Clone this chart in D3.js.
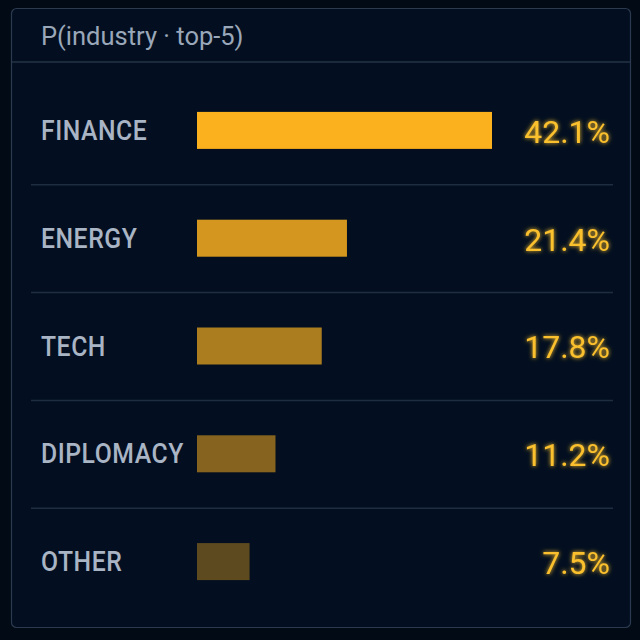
<!DOCTYPE html>
<html><head><meta charset="utf-8">
<script src="https://cdn.jsdelivr.net/npm/d3@7"></script>
<style>
html,body{margin:0;padding:0;background:#020b18;}
svg{display:block;}
</style></head>
<body>
<svg id="chart" width="640" height="640"></svg>
<script>
const title = "P(industry · top-5)";
const categories = ["FINANCE", "ENERGY", "TECH", "DIPLOMACY", "OTHER"];
const values = [42.1, 21.4, 17.8, 11.2, 7.5];
const valueLabels = ["42.1%", "21.4%", "17.8%", "11.2%", "7.5%"];

const svg = d3.select("#chart");
const W = 640, H = 640;

const defs = svg.append("defs");
const glow = defs.append("filter").attr("id","glow").attr("x","-20%").attr("y","-40%").attr("width","140%").attr("height","180%");
glow.append("feGaussianBlur").attr("stdDeviation",2.2).attr("result","b");
const m = glow.append("feMerge");
m.append("feMergeNode").attr("in","b");
m.append("feMergeNode").attr("in","SourceGraphic");

svg.append("rect").attr("width",W).attr("height",H).attr("fill","#020a16");
svg.append("rect").attr("x",11.5).attr("y",8.5).attr("width",619).attr("height",619)
  .attr("rx",5).attr("fill","#030f20").attr("stroke","#2b3a4f").attr("stroke-width",1.2);
svg.append("line").attr("x1",12).attr("x2",630).attr("y1",62).attr("y2",62)
  .attr("stroke","#243347").attr("stroke-width",1.5);
svg.append("text").attr("x",41).attr("y",45).text(title)
  .attr("font-family","Roboto, sans-serif").attr("font-size",25.5).attr("fill","#9aa7b9");

const y = d3.scaleBand().domain(categories).range([77, 616]).paddingInner(0);
const x = d3.scaleLinear().domain([0, d3.max(values)]).range([0, 295]);
const op = d3.scaleLinear().domain([0, categories.length-1]).range([1, 0.37]);

const rows = svg.append("g").selectAll("g").data(categories).join("g")
  .attr("transform", d => `translate(0,${y(d)})`);
const bh = y.bandwidth();

rows.filter((d,i)=> i>0).append("line")
  .attr("x1",31).attr("x2",613).attr("y1",0).attr("y2",0)
  .attr("stroke","#1f2d40").attr("stroke-width",1.5);

rows.append("text").attr("transform",`translate(41,${bh/2+9}) scale(0.9,1)`).text(d=>d)
  .attr("font-family","Roboto, sans-serif").attr("font-weight",500)
  .attr("font-size",27.5).attr("letter-spacing",0.6).attr("fill","#a9b4c5");

rows.append("rect").attr("x",197).attr("y",bh/2-19).attr("height",37)
  .attr("width",(d,i)=>x(values[i]))
  .attr("fill","#fbb01e").attr("fill-opacity",(d,i)=>op(i));

rows.append("text").attr("x",610).attr("y",bh/2+12).attr("text-anchor","end")
  .text((d,i)=>valueLabels[i])
  .attr("font-family","Roboto, sans-serif").attr("font-size",32)
  .attr("fill","#fbc02d").attr("filter","url(#glow)");
</script>
</body></html>
